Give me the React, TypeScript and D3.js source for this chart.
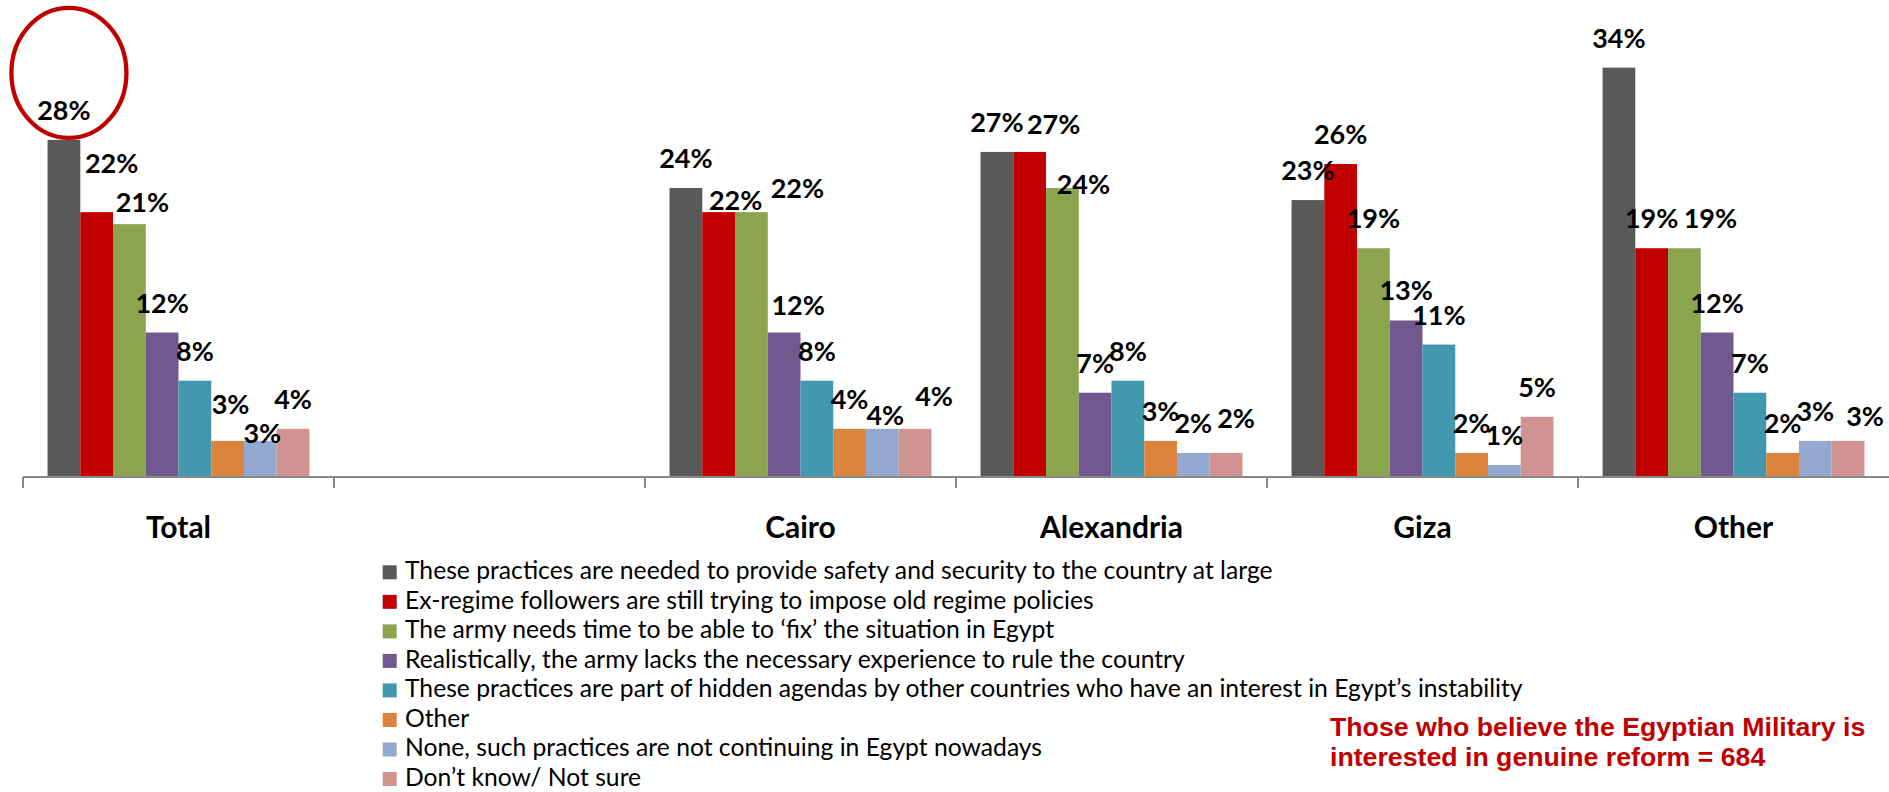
import React from "react";
import * as d3 from "d3";

// ---- data ----
const categories = ["Total", "", "Cairo", "Alexandria", "Giza", "Other"];
const seriesNames = [
  "These practices are needed to provide safety and security to the country at large",
  "Ex-regime followers are still trying to impose old regime policies",
  "The army needs time to be able to \u2018fix\u2019 the situation in Egypt",
  "Realistically, the army lacks the necessary experience to rule the country",
  "These practices are part of hidden agendas by other countries who have an interest in Egypt\u2019s instability",
  "Other",
  "None, such practices are not continuing in Egypt nowadays",
  "Don\u2019t know/ Not sure",
];
const safetySecurity = [28, null, 24, 27, 23, 34];
const exRegime = [22, null, 22, 27, 26, 19];
const armyNeedsTime = [21, null, 22, 24, 19, 19];
const lacksExperience = [12, null, 12, 7, 13, 12];
const hiddenAgendas = [8, null, 8, 8, 11, 7];
const otherReason = [3, null, 4, 3, 2, 2];
const noneContinuing = [3, null, 4, 2, 1, 3];
const dontKnow = [4, null, 4, 2, 5, 3];
const seriesValues: (number | null)[][] = [
  safetySecurity, exRegime, armyNeedsTime, lacksExperience,
  hiddenAgendas, otherReason, noneContinuing, dontKnow,
];
const noteLines = [
  "Those who believe the Egyptian Military is",
  "interested in genuine reform = 684",
];

// ---- style / layout ----
const colors = ["#595959", "#C00000", "#8AA54E", "#71588F", "#4298AF", "#DB843D", "#93A9CF", "#D19392"];
// manual label nudges (dx, dy) as in the original slide, keyed "category-series"
const labelNudge: Record<string, [number, number]> = {
  "0-1": [15, -19], "0-2": [13, 8], "0-5": [3, -7], "0-6": [2, 22],
  "2-1": [17, 18], "2-2": [46, 6], "2-3": [14, 2], "2-6": [3, 16], "2-7": [19, -3],
  "3-1": [24, 2], "3-2": [21, 26], "3-7": [10, -5],
  "5-2": [26, 0], "5-7": [17, 5],
};

const W = 1889;
const H = 792;
const axisY = 477;
const font = "Lato, 'Open Sans', sans-serif";

export default function App() {
  const x0 = d3.scaleBand<string>().domain(categories.map((c, i) => String(i))).range([23, 1889]).paddingInner(0).paddingOuter(0);
  const x1 = d3.scaleBand<string>().domain(seriesNames.map((_, i) => String(i))).range([0, x0.bandwidth()]).paddingInner(0).paddingOuter(0.75);
  const y = d3.scaleLinear().domain([0, 40]).range([axisY, axisY - 12.04 * 40]);
  const bw = x1.bandwidth();

  const bars: React.ReactNode[] = [];
  const labels: React.ReactNode[] = [];
  categories.forEach((c, ci) => {
    seriesValues.forEach((vals, si) => {
      const v = vals[ci];
      if (v == null) return;
      const bx = (x0(String(ci)) as number) + (x1(String(si)) as number);
      bars.push(
        <rect key={`b${ci}-${si}`} x={bx} y={y(v)} width={bw} height={axisY - y(v)} fill={colors[si]} />
      );
      const n = labelNudge[`${ci}-${si}`] || [0, 0];
      labels.push(
        <text key={`l${ci}-${si}`} x={bx + bw / 2 + n[0]} y={y(v) - 20 + n[1]} textAnchor="middle"
          fontFamily={font} fontWeight={700} fontSize={27} fill="#000">{`${v}%`}</text>
      );
    });
  });

  const ticks = categories.map((_, i) => x0(String(i)) as number);
  const totalCx = (x0("0") as number) + (x1("0") as number) + bw / 2 + 5;
  const totalCy = y(safetySecurity[0] as number) - 67;

  return (
    <svg width={W} height={H} style={{ position: "absolute", left: 0, top: 0, display: "block" }}>
      <rect x={0} y={0} width={W} height={H} fill="#fff" />
      {bars}
      <line x1={23} x2={W} y1={axisY} y2={axisY} stroke="#878787" strokeWidth={2} />
      {ticks.map((t, i) => (
        <line key={`t${i}`} x1={t} x2={t} y1={axisY} y2={axisY + 11} stroke="#878787" strokeWidth={2} />
      ))}
      {labels}
      <ellipse cx={totalCx} cy={totalCy} rx={57.5} ry={65} fill="none" stroke="#C00000" strokeWidth={4.3} />
      {categories.map((c, i) => (
        <text key={`c${i}`} x={(x0(String(i)) as number) + x0.bandwidth() / 2} y={538} textAnchor="middle"
          fontFamily={font} fontWeight={700} fontSize={30} fill="#000">{c}</text>
      ))}
      {seriesNames.map((s, i) => (
        <g key={`lg${i}`} transform={`translate(0, ${579.3 + 29.53 * i})`}>
          <rect x={382.7} y={-14} width={14} height={14} fill={colors[i]} />
          <text x={405} y={0} fontFamily={font} fontSize={24.7} fill="#000">{s}</text>
        </g>
      ))}
      {noteLines.map((l, i) => (
        <text key={`n${i}`} x={1330} y={736 + 30 * i} fontFamily="'Liberation Sans', Arial, sans-serif"
          fontWeight={700} fontSize={26.7} fill="#C00000">{l}</text>
      ))}
    </svg>
  );
}
